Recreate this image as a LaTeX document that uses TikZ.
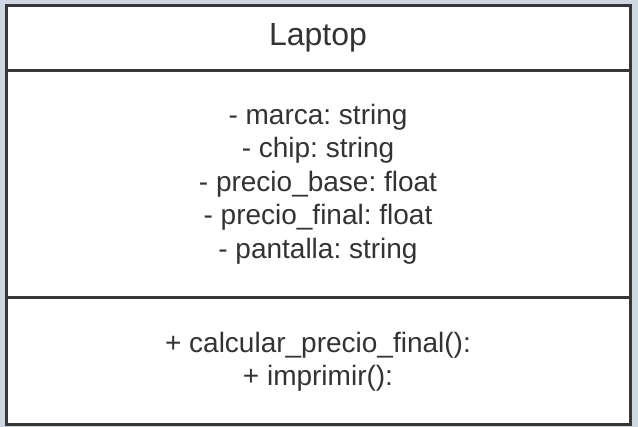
\documentclass[tikz,border=0pt]{standalone}
\usepackage{fontspec}
\setmainfont{Liberation Sans}
\frenchspacing
\definecolor{pagebg}{HTML}{CED6DF}
\definecolor{edge}{HTML}{363636}
\definecolor{ink}{HTML}{333333}
\begin{document}
\begin{tikzpicture}[x=1pt,y=-1pt,
  classline/.style={draw=edge,line width=3pt},
  member/.style={text=ink,align=center,inner sep=0pt,font=\fontsize{28}{33.5}\selectfont},
  titletext/.style={text=ink,inner sep=0pt,font=\fontsize{32}{38}\selectfont}]
  % page background
  \fill[pagebg] (0,0) rectangle (638,427);
  \useasboundingbox (0,0) rectangle (638,427);
  % class box
  \fill[white] (6.5,6) rectangle (630,424.5);
  \draw[classline] (6.5,6) rectangle (630,424.5);
  \draw[classline] (6.5,71) -- (630,71);
  \draw[classline] (6.5,298) -- (630,298);
  % compartments
  \node[titletext] (title) at (318,38) {Laptop};
  \node[member] (attrs) at (318,184) {- marca: string\\- chip: string\\- precio\_base: float\\- precio\_final: float\\- pantalla: string};
  \node[member] (ops) at (318,362) {+ calcular\_precio\_final():\\+ imprimir():};
\end{tikzpicture}
\end{document}
